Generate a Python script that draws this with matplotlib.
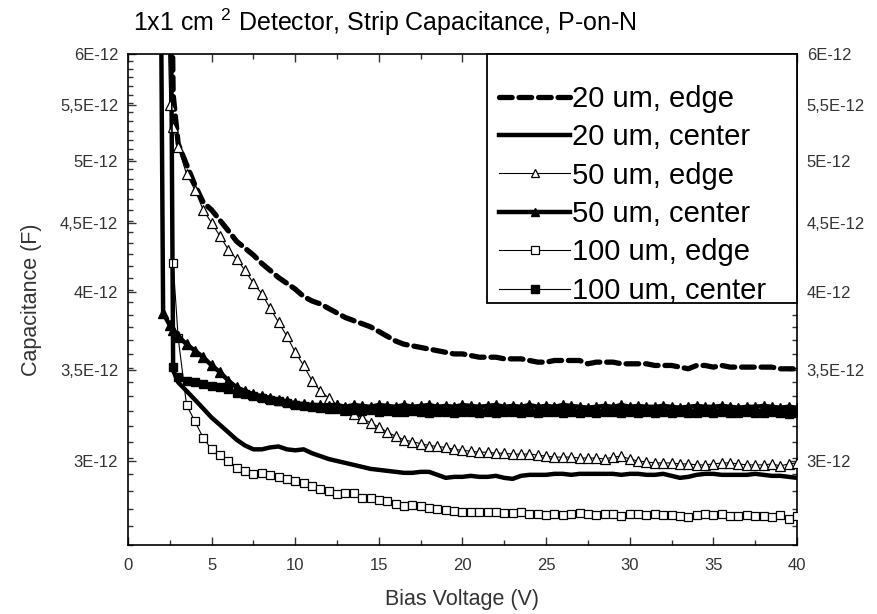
import matplotlib
matplotlib.use("Agg")
import matplotlib.pyplot as plt
from matplotlib.patches import Rectangle
from matplotlib.ticker import FixedLocator, FixedFormatter, MultipleLocator

plt.rcParams['font.family'] = ['Liberation Sans', 'DejaVu Sans']
plt.rcParams['mathtext.fontset'] = 'custom'
plt.rcParams['mathtext.rm'] = 'Liberation Sans'
plt.rcParams['mathtext.it'] = 'Liberation Sans'

NA = float('nan')

# Bias voltage grid (V)
bias_v = [1.9, 2.1, 2.5, 2.7, 3.0, 3.5, 4.0, 4.5, 5.0, 5.5, 6.0, 6.5,
          7.0, 7.5, 8.0, 8.5, 9.0, 9.5, 10.0, 10.5, 11.0, 11.5,
          12.0, 12.5, 13.0, 13.5, 14.0, 14.5, 15.0, 15.5, 16.0, 16.5,
          17.0, 17.5, 18.0, 18.5, 19.0, 19.5, 20.0, 20.5, 21.0, 21.5,
          22.0, 22.5, 23.0, 23.5, 24.0, 24.5, 25.0, 25.5, 26.0, 26.5,
          27.0, 27.5, 28.0, 28.5, 29.0, 29.5, 30.0, 30.5, 31.0, 31.5,
          32.0, 32.5, 33.0, 33.5, 34.0, 34.5, 35.0, 35.5, 36.0, 36.5,
          37.0, 37.5, 38.0, 38.5, 39.0, 39.5, 40.0]

# Capacitance values in units of 1E-12 F
c_20_edge = [NA, NA, 9.0, 5.6, 5.15, 4.97, 4.80, 4.66, 4.60, 4.52, 4.44, 4.36,
             4.31, 4.26, 4.20, 4.15, 4.10, 4.06, 4.02, 3.97, 3.94, 3.92,
             3.89, 3.86, 3.83, 3.81, 3.79, 3.77, 3.74, 3.71, 3.68, 3.66,
             3.65, 3.64, 3.63, 3.62, 3.61, 3.60, 3.60, 3.59, 3.58, 3.58,
             3.58, 3.57, 3.57, 3.57, 3.56, 3.55, 3.55, 3.56, 3.56, 3.56,
             3.56, 3.54, 3.55, 3.55, 3.55, 3.54, 3.54, 3.54, 3.54, 3.53,
             3.53, 3.53, 3.52, 3.51, 3.53, 3.53, 3.52, 3.53, 3.52, 3.52,
             3.52, 3.52, 3.52, 3.52, 3.51, 3.51, 3.51]

c_20_center = [NA, NA, 9.0, 3.50, 3.43, 3.38, 3.33, 3.28, 3.23, 3.19, 3.15, 3.11,
               3.08, 3.06, 3.06, 3.07, 3.075, 3.06, 3.055, 3.06, 3.04, 3.025,
               3.01, 3.00, 2.99, 2.98, 2.97, 2.96, 2.955, 2.95, 2.945, 2.94,
               2.94, 2.945, 2.945, 2.93, 2.915, 2.92, 2.92, 2.925, 2.92, 2.92,
               2.925, 2.915, 2.91, 2.925, 2.93, 2.93, 2.93, 2.935, 2.935, 2.93,
               2.935, 2.935, 2.935, 2.935, 2.935, 2.93, 2.935, 2.935, 2.93, 2.93,
               2.935, 2.925, 2.915, 2.92, 2.93, 2.935, 2.935, 2.93, 2.93, 2.93,
               2.93, 2.935, 2.93, 2.925, 2.925, 2.92, 2.915]

c_50_edge = [NA, 9.0, 5.5, 5.3, 5.12, 4.89, 4.76, 4.60, 4.50, 4.40, 4.30, 4.23,
             4.15, 4.06, 3.99, 3.89, 3.80, 3.71, 3.61, 3.53, 3.44, 3.38,
             3.34, 3.30, 3.27, 3.25, 3.23, 3.20, 3.18, 3.15, 3.13, 3.11,
             3.10, 3.09, 3.08, 3.075, 3.07, 3.06, 3.055, 3.05, 3.045, 3.045,
             3.04, 3.04, 3.035, 3.035, 3.036, 3.03, 3.025, 3.02, 3.02, 3.02,
             3.015, 3.015, 3.015, 3.01, 3.02, 3.025, 3.01, 3.00, 2.995, 2.99,
             2.99, 2.99, 2.985, 2.985, 2.98, 2.98, 2.985, 2.99, 2.99, 2.985,
             2.98, 2.98, 2.98, 2.985, 2.975, 2.985, 2.99]

c_50_center = [9.0, 3.86, 3.78, 3.75, 3.71, 3.66, 3.62, 3.58, 3.53, 3.49, 3.44, 3.40,
               3.38, 3.36, 3.35, 3.34, 3.33, 3.32, 3.31, 3.305, 3.30, 3.30,
               3.295, 3.30, 3.29, 3.30, 3.295, 3.29, 3.30, 3.295, 3.29, 3.30,
               3.29, 3.295, 3.30, 3.29, 3.295, 3.29, 3.30, 3.295, 3.29, 3.295,
               3.30, 3.29, 3.295, 3.29, 3.30, 3.29, 3.295, 3.29, 3.30, 3.295,
               3.29, 3.285, 3.29, 3.295, 3.29, 3.30, 3.29, 3.295, 3.29, 3.29,
               3.295, 3.29, 3.285, 3.29, 3.295, 3.29, 3.29, 3.295, 3.29, 3.285,
               3.29, 3.29, 3.295, 3.29, 3.285, 3.29, 3.285]

c_100_edge = [NA, NA, 9.0, 4.2, 3.70, 3.30, 3.21, 3.12, 3.06, 3.03, 3.00, 2.965,
              2.95, 2.935, 2.94, 2.93, 2.92, 2.91, 2.90, 2.89, 2.875, 2.86,
              2.85, 2.835, 2.84, 2.84, 2.815, 2.815, 2.805, 2.80, 2.79, 2.78,
              2.785, 2.78, 2.77, 2.765, 2.76, 2.755, 2.75, 2.75, 2.75, 2.748,
              2.75, 2.745, 2.745, 2.748, 2.742, 2.74, 2.738, 2.74, 2.735, 2.74,
              2.745, 2.74, 2.735, 2.742, 2.74, 2.73, 2.74, 2.74, 2.735, 2.74,
              2.738, 2.735, 2.73, 2.728, 2.738, 2.74, 2.735, 2.74, 2.732, 2.73,
              2.735, 2.73, 2.73, 2.728, 2.735, 2.72, 2.73]

c_100_center = [NA, NA, 9.0, 3.52, 3.46, 3.44, 3.43, 3.42, 3.41, 3.40, 3.39, 3.37,
                3.36, 3.35, 3.34, 3.33, 3.32, 3.31, 3.30, 3.295, 3.29, 3.285,
                3.28, 3.275, 3.27, 3.27, 3.265, 3.27, 3.26, 3.265, 3.26, 3.26,
                3.265, 3.26, 3.255, 3.26, 3.26, 3.255, 3.26, 3.26, 3.255, 3.26,
                3.255, 3.26, 3.26, 3.255, 3.26, 3.255, 3.26, 3.26, 3.255, 3.26,
                3.255, 3.26, 3.255, 3.26, 3.26, 3.255, 3.26, 3.255, 3.26, 3.255,
                3.26, 3.255, 3.26, 3.255, 3.255, 3.26, 3.255, 3.26, 3.255, 3.255,
                3.26, 3.255, 3.255, 3.26, 3.255, 3.25, 3.255]

labels = ["20 um, edge", "20 um, center", "50 um, edge",
          "50 um, center", "100 um, edge", "100 um, center"]

y_ticks = [3.0, 3.5, 4.0, 4.5, 5.0, 5.5, 6.0]
y_tick_labels = ["3E-12", "3,5E-12", "4E-12", "4,5E-12", "5E-12", "5,5E-12", "6E-12"]
x_ticks = [0, 5, 10, 15, 20, 25, 30, 35, 40]

def sc(vals):
    return [v * 1e-12 for v in vals]

W, H = 878, 614
fig = plt.figure(figsize=(W / 100, H / 100), dpi=100)
ax_l, ax_r, ax_t, ax_b = 128, 797, 54, 545
aw, ah = ax_r - ax_l, ax_b - ax_t
ax = fig.add_axes([ax_l / W, 1 - ax_b / H, aw / W, ah / H])

k = 'black'
ax.plot(bias_v, sc(c_20_edge), color=k, lw=3.8, dashes=(2.4, 1.3),
        dash_capstyle='round', label=labels[0], zorder=3)
ax.plot(bias_v, sc(c_20_center), color=k, lw=3.2, label=labels[1], zorder=3)
ax.plot(bias_v, sc(c_50_edge), color=k, lw=0.8, marker='^', ms=7,
        mfc='white', mec=k, mew=0.9, label=labels[2], zorder=4)
ax.plot(bias_v, sc(c_50_center), color=k, lw=3.2, marker='^', ms=7,
        mfc=k, mec=k, label=labels[3], zorder=5)
ax.plot(bias_v, sc(c_100_edge), color=k, lw=0.8, marker='s', ms=6,
        mfc='white', mec=k, mew=0.9, label=labels[4], zorder=4)
ax.plot(bias_v, sc(c_100_center), color=k, lw=0.8, marker='s', ms=6,
        mfc=k, mec=k, label=labels[5], zorder=5)

ax.set_yscale('log')
ax.set_ylim(2.6e-12, 6e-12)
ax.set_xlim(0, 40)

ax.yaxis.set_major_locator(FixedLocator(sc(y_ticks)))
ax.yaxis.set_major_formatter(FixedFormatter(y_tick_labels))
minor = [(2.6 + i / 12.0) * 1e-12 for i in range(0, 42)]
minor = [m for m in minor if all(abs(m - t * 1e-12) > 1e-15 for t in y_ticks)]
ax.yaxis.set_minor_locator(FixedLocator(minor))
ax.yaxis.set_minor_formatter(FixedFormatter([''] * len(minor)))
ax.xaxis.set_major_locator(FixedLocator(x_ticks))
ax.xaxis.set_minor_locator(MultipleLocator(2.5))

ax.tick_params(which='both', direction='in', top=True, right=True,
               labelright=True, labelsize=12, width=1.0, colors='#333333')
ax.tick_params(which='major', length=6)
ax.tick_params(which='minor', length=3.5)
ax.tick_params(axis='x', pad=9)
ax.tick_params(axis='y', pad=7)
for s in ax.spines.values():
    s.set_linewidth(1.2)

ax.set_xlabel("Bias Voltage (V)", fontsize=15.5, color='#333333', labelpad=12)
ax.set_ylabel("Capacitance (F)", fontsize=15.5, color='#333333', labelpad=13)

fig.text(133 / W, 1 - 22 / H, "1x1 cm $^{2}$ Detector, Strip Capacitance, P-on-N",
         fontsize=18, ha='left', va='center')

# legend box (x 487..797, y 54..303 px)
box = Rectangle(((487 - ax_l) / aw, (ax_b - 303) / ah), (797 - 487) / aw, (303 - 54) / ah,
                transform=ax.transAxes, facecolor='white', edgecolor='black',
                lw=1.3, zorder=6, clip_on=False)
ax.add_patch(box)
leg = ax.legend(loc='upper left', bbox_to_anchor=((499 - ax_l) / aw, (ax_b - 85) / ah),
                borderaxespad=0, borderpad=0, frameon=False,
                fontsize=21, handlelength=2.45, handletextpad=0.04,
                labelspacing=0.355, markerscale=0.85)
leg.set_zorder(7)

fig.savefig("out.png", dpi=100)
